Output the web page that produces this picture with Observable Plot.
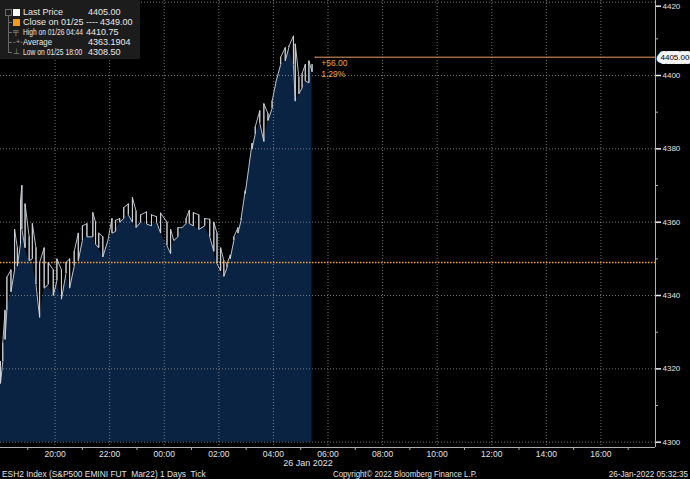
<!DOCTYPE html>
<html><head><meta charset="utf-8">
<script src="https://cdn.jsdelivr.net/npm/d3@7"></script>
<script src="https://cdn.jsdelivr.net/npm/@observablehq/plot@0.6"></script>
<style>
html,body{margin:0;padding:0;background:#000;}
#wrap{position:relative;width:690px;height:479px;overflow:hidden;font-family:"Liberation Sans",Arial,sans-serif;background:#000;}
#chart svg{display:block;}
.leg{position:absolute;left:0;top:0;width:140px;height:59px;background:#1c1c1c;color:#e8e8e8;font-size:9px;}
.row{position:absolute;left:0;height:10px;line-height:10px;white-space:pre;width:140px;}
.row .lab{position:absolute;left:23px;transform-origin:left center;}
.row .val{position:absolute;}
.sq{position:absolute;left:13px;top:2px;width:7px;height:7px;}
.sym{position:absolute;left:13px;color:#9a9a9a;font-size:8px;}
.tree{position:absolute;background:#6a6a6a;}
.foot{position:absolute;top:469px;height:10px;line-height:10px;font-size:9px;color:#e0e0e0;white-space:pre;}
</style></head>
<body>
<div id="wrap">
  <div id="chart"></div>
  <div class="leg" id="legend"></div>
  <div class="foot" id="f1" style="left:2px;transform-origin:left center;transform:scaleX(0.93);"></div>
  <div class="foot" id="f2" style="left:333px;transform-origin:left center;transform:scaleX(0.87);"></div>
  <div class="foot" id="f3" style="right:2px;transform-origin:right center;transform:scaleX(0.9);"></div>
  <div class="foot" id="dateLab" style="top:458px;left:280px;width:56px;text-align:center;"></div>
</div>
<script>
// ---- data ----
const times = [
 "18:00","18:05","18:10","18:14","18:23","18:31","18:37","18:44","18:47","18:54",
 "19:03","19:10","19:18","19:26","19:36","19:45","19:56",
 "20:04","20:14","20:24","20:32","20:42","20:51",
 "21:00","21:10","21:23","21:29","21:36","21:45","21:56",
 "22:05","22:13","22:22","22:31","22:41","22:50","22:58",
 "23:08","23:21","23:32","23:43","23:52",
 "00:06","00:14","00:21","00:30","00:39","00:48","00:55",
 "01:04","01:16","01:29","01:40","01:49","01:56",
 "02:04","02:11","02:18","02:25","02:33","02:42","02:49","02:58",
 "03:06","03:13","03:20","03:30","03:39","03:48","03:57",
 "04:05","04:16","04:26","04:34","04:44","04:48","04:56",
 "05:03","05:10","05:18","05:25","05:32"];
const lows = [
 4316,4322,4328,4336,4341,4347,4348,4354,4358,4353,
 4349.5,4350,4343,4334,4342,4343,4340,
 4344,4339,4346,4342,4348,4349.5,
 4355,4356,4356,4354,4353,4350.5,
 4355,4357,4357.5,4360,4361,4362,4360,
 4358.5,4360,4359.5,4359,4360,
 4357,4353.6,4351.4,4355,4356,4358.5,4359.6,
 4359.6,4359,4358,4359,4356,4352,
 4348.7,4346.7,4345.2,4347.6,4350,4355,4357,4360.5,
 4367.8,4375,4380,4384,4387,4382,4387.7,
 4391,4398,4403,4404,4407.6,4403,4393,
 4395,4396.6,4398.5,4398,4403];
const highs = [
 4322,4327,4336,4345,4347,4358,4353,4366,4370,4365,
 4356,4359.6,4353,4349,4353,4349,4347,
 4350,4347,4349,4350,4352,4357,
 4359,4359.6,4362.6,4360,4357,4356,4355,
 4361,4360.5,4361,4364,4365,4366.7,4363,
 4362,4362.8,4362,4361.5,4362.5,
 4360,4358,4355,4358.5,4358.5,4361,4363.2,
 4362.6,4362,4361,4360.8,4360,4357,
 4353,4349.5,4348.7,4351,4356,4358.5,4361,4368.6,
 4375,4381.5,4386,4390.4,4392.3,4389.6,4393,
 4397.8,4405,4407.6,4408,4410.75,4408.6,4399.5,
 4400.5,4403,4404,4401,4405];
const lastPrice = 4405.00;
const prevClose = 4349.00;
const yTicks = [4300,4320,4340,4360,4380,4400];
const yTopTick = [4420];
const yMinor = [4310,4330,4350,4370,4390,4410];
const xTickLabels = ["20:00","22:00","00:00","02:00","04:00","06:00","08:00","10:00","12:00","14:00","16:00"];
const xMinorLabels = ["19:00","21:00","23:00","01:00","03:00","05:00","07:00","09:00","11:00","13:00","15:00","17:00"];
const legendLabels = ["Last Price","Close on 01/25 ----","High on 01/26 04:44","Average","Low on 01/25 18:00"];
const legendValues = ["4405.00","4349.00","4410.75","4363.1904","4308.50"];
const legendMarks = ["white","orange","high","avg","low"];
const footLeft = "ESH2 Index (S&P500 EMINI FUT  Mar22) 1 Days  Tick";
const footMid = "Copyright\u00A9 2022 Bloomberg Finance L.P.";
const footRight = "26-Jan-2022 05:32:35";
const dateLabel = "26 Jan 2022";

// ---- helpers ----
function toDate(hm){
  const [h,m] = hm.split(":").map(Number);
  return new Date(Date.UTC(2022,0,h>=18?25:26,h,m));
}
const xStart = new Date(Date.UTC(2022,0,25,18));
const xEnd = new Date(Date.UTC(2022,0,26,18));
const yDomain = [4298.55, 4420.46];

const rows = times.map((t,i)=>({date:toDate(t), lo:lows[i], hi:highs[i]}));
const n = rows.length;
const zig = rows.flatMap((r,i)=> ((n-1-i)%2===0)
  ? [{date:r.date,v:r.lo},{date:r.date,v:r.hi}]
  : [{date:r.date,v:r.hi},{date:r.date,v:r.lo}]);
const lastDate = rows[n-1].date;
const xTickDates = xTickLabels.map(toDate);
const xMinorDates = xMinorLabels.map(toDate);
const change = lastPrice - prevClose;
const pct = change/prevClose*100;
const fmt = d3.format("d");

const chart = Plot.plot({
  width:690, height:479,
  marginLeft:0, marginRight:35, marginTop:0, marginBottom:32,
  style:{background:"#000", color:"#ddd", fontFamily:"Liberation Sans, Arial, sans-serif", fontSize:"8px", overflow:"visible"},
  x:{type:"utc", domain:[xStart,xEnd]},
  y:{domain:yDomain},
  marks:[
    Plot.areaY(rows,{x:"date", y1:4300, y2:"lo", fill:"#0a2343", curve:"linear"}),
    Plot.gridY(yTicks.concat(yTopTick),{stroke:"#9a9a9a", strokeOpacity:0.75, strokeDasharray:"1,2"}),
    Plot.gridX(xTickDates,{stroke:"#9a9a9a", strokeOpacity:0.75, strokeDasharray:"1,2"}),
    Plot.ruleY([prevClose],{stroke:"#f2a033", strokeWidth:1.4, strokeDasharray:"1.5,1.5"}),
    Plot.ruleY([{y:lastPrice, x1:lastDate, x2:xEnd}],{y:"y", x1:"x1", x2:"x2", stroke:"#e69c66", strokeWidth:1}),
    Plot.ruleX(rows,{x:"date", y1:"lo", y2:"hi", stroke:"#c9cfd6", strokeWidth:1}),
    Plot.line(zig,{x:"date", y:"v", stroke:"#cdd3da", strokeWidth:0.9, curve:"linear"}),
    Plot.ruleY([yDomain[0]],{stroke:"#b0b0b0", strokeWidth:1}),
    Plot.ruleX([xEnd],{stroke:"#b0b0b0", strokeWidth:1}),
    Plot.axisY(yTicks,{anchor:"right", tickSize:5, tickPadding:2, fontSize:8, tickFormat:fmt, stroke:"#f0f0f0", strokeWidth:1.5, fill:"#e0e0e0", label:null}),
    Plot.axisY(yTopTick,{anchor:"right", tickSize:5, tickPadding:2, fontSize:8, tickFormat:fmt, dy:4, stroke:"#f0f0f0", strokeWidth:1.5, fill:"#e0e0e0", label:null}),
    Plot.axisY(yMinor,{anchor:"right", tickSize:2, tickFormat:()=>"", stroke:"#aaa", label:null}),
    Plot.axisX(xTickDates,{tickSize:0, tickPadding:3, fontSize:8.5, tickFormat:d3.utcFormat("%H:%M"), fill:"#e0e0e0", label:null}),
    Plot.axisX(xMinorDates,{tickSize:3, tickFormat:()=>"", stroke:"#aaa", label:null}),
    Plot.text([{x:lastDate, y:lastPrice}],{x:"x", y:"y", text:()=>"+"+change.toFixed(2), dx:6, dy:6, textAnchor:"start", fill:"#f0a040", fontSize:8.5}),
    Plot.text([{x:lastDate, y:lastPrice}],{x:"x", y:"y", text:()=>pct.toFixed(2)+"%", dx:6, dy:17, textAnchor:"start", fill:"#f0a040", fontSize:8.5}),
    Plot.text([lastPrice],{y:d=>d, frameAnchor:"right", dx:5, textAnchor:"start", text:d=>d.toFixed(2), fill:"#000", stroke:"#f4f4f4", strokeWidth:8, strokeLinejoin:"round", fontSize:8})
  ]
});
document.getElementById("chart").appendChild(chart);

// legend
const leg = document.getElementById("legend");
const tops = [7,17,27,37,47];
const labScale = [1, 1, 0.74, 0.87, 0.75];
const valLeft = [88, 100, 86, 88, 88];
legendLabels.forEach((lab,i)=>{
  const d = document.createElement("div");
  d.className = "row"; d.style.top = tops[i]+"px";
  const m = legendMarks[i];
  let mk = "";
  if (m==="white") mk = '<span class="sq" style="background:#fff"></span>';
  else if (m==="orange") mk = '<span class="sq" style="background:#f39a1e"></span>';
  else if (m==="high") mk = '<span class="sym">\u2564</span>';
  else if (m==="avg") mk = '<span class="sym">-+-</span>';
  else mk = '<span class="sym">\u22A5</span>';
  d.innerHTML = mk + '<span class="lab" style="transform:scaleX('+labScale[i]+')">'+lab+'</span><span class="val" style="left:'+valLeft[i]+'px">'+legendValues[i]+'</span>';
  leg.appendChild(d);
});
const tv = document.createElement("div"); tv.className="tree";
tv.style.cssText += "left:8px;top:15px;width:1px;height:37px;";
leg.appendChild(tv);
[22,32,42,52].forEach(y=>{
  const h = document.createElement("div"); h.className="tree";
  h.style.cssText += "left:8px;top:"+y+"px;width:4px;height:1px;";
  leg.appendChild(h);
});
const bx = document.createElement("div");
bx.style.cssText = "position:absolute;left:5px;top:9px;width:5px;height:5px;border:1px solid #6a6a6a;";
leg.appendChild(bx);

document.getElementById("f1").textContent = footLeft;
document.getElementById("f2").textContent = footMid;
document.getElementById("f3").textContent = footRight;
document.getElementById("dateLab").textContent = dateLabel;
</script>
</body></html>
